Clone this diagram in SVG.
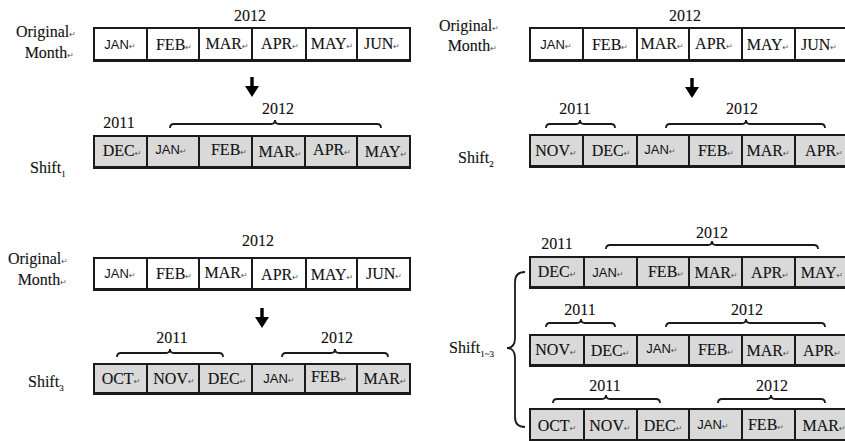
<svg xmlns="http://www.w3.org/2000/svg" width="845" height="441" viewBox="0 0 845 441" font-family="Liberation Serif, Times New Roman, serif">
<style>
.w{fill:#ffffff;stroke:#1a1a1a;stroke-width:2}
.g{fill:#d9d9d9;stroke:#1a1a1a;stroke-width:2}
.bl{stroke:#1a1a1a;stroke-width:3}
.m,.l,.y{font-size:16px;fill:#111;stroke:#111;stroke-width:0.12}
.m,.j,.y{text-anchor:middle}
.j{font-family:Liberation Sans, Arial, sans-serif;font-size:13px;fill:#111}
.k{font-family:DejaVu Sans, sans-serif;font-size:8px;fill:#555;stroke:none}
.r{text-anchor:end}
.s{font-size:9px}
.br{fill:none;stroke:#1a1a1a;stroke-width:1.8}
.ar{fill:#000}
</style>
<defs>
<g id="arrow"><rect x="-1.7" y="0" width="3.4" height="11" class="ar"/><path d="M-7,9 L7,9 L0,20 Z" class="ar"/></g>
</defs>

<!-- Panel 1 -->
<g id="p1-label">
<text class="l r" x="76" y="37">Original<tspan class="k">↵</tspan></text>
<text class="l r" x="74" y="58">Month<tspan class="k">↵</tspan></text>
</g>
<g id="p1-top">
<text class="y" x="250" y="21">2012</text>
<rect class="w" x="94" y="28" width="53" height="32"/><rect class="w" x="147" y="28" width="52" height="32"/><rect class="w" x="199" y="28" width="53" height="32"/><rect class="w" x="252" y="28" width="54" height="32"/><rect class="w" x="306" y="28" width="51" height="32"/><rect class="w" x="357" y="28" width="53" height="32"/>
<line class="bl" x1="93" y1="60.5" x2="411" y2="60.5"/>
<text class="j" x="120" y="49">JAN<tspan class="k">↵</tspan></text>
<text class="m" x="174" y="50">FEB<tspan class="k">↵</tspan></text>
<text class="m" x="227" y="49">MAR<tspan class="k">↵</tspan></text>
<text class="m" x="280" y="49">APR<tspan class="k">↵</tspan></text>
<text class="m" x="332" y="49">MAY<tspan class="k">↵</tspan></text>
<text class="m" x="382" y="49">JUN<tspan class="k">↵</tspan></text>
</g>
<g id="p1-shift">
<text class="y" x="119" y="128">2011</text>
<text class="y" x="278" y="114">2012</text>
<rect class="g" x="94" y="136" width="53" height="31"/><rect class="g" x="147" y="136" width="52" height="31"/><rect class="g" x="199" y="136" width="53" height="31"/><rect class="g" x="252" y="136" width="53" height="31"/><rect class="g" x="305" y="136" width="52" height="31"/><rect class="g" x="357" y="136" width="53" height="31"/>
<line class="bl" x1="93" y1="167.5" x2="411" y2="167.5"/>
<text class="m" x="122" y="156">DEC<tspan class="k">↵</tspan></text>
<text class="j" x="171" y="154">JAN<tspan class="k">↵</tspan></text>
<text class="m" x="229" y="155">FEB<tspan class="k">↵</tspan></text>
<text class="m" x="280" y="157">MAR<tspan class="k">↵</tspan></text>
<text class="m" x="332" y="155">APR<tspan class="k">↵</tspan></text>
<text class="m" x="386" y="157">MAY<tspan class="k">↵</tspan></text>
<text class="l" x="30" y="173">Shift<tspan class="s" dy="4">1</tspan></text>
</g>

<!-- Panel 2 -->
<g id="p2-label">
<text class="l r" x="499" y="31">Original<tspan class="k">↵</tspan></text>
<text class="l r" x="497" y="51">Month<tspan class="k">↵</tspan></text>
</g>
<g id="p2-top">
<text class="y" x="685" y="21">2012</text>
<rect class="w" x="530" y="28" width="53" height="32"/><rect class="w" x="583" y="28" width="54" height="32"/><rect class="w" x="637" y="28" width="52" height="32"/><rect class="w" x="689" y="28" width="53" height="32"/><rect class="w" x="742" y="28" width="53" height="32"/><rect class="w" x="795" y="28" width="53" height="32"/>
<line class="bl" x1="529" y1="60.5" x2="848" y2="60.5"/>
<text class="j" x="556" y="49">JAN<tspan class="k">↵</tspan></text>
<text class="m" x="610" y="50">FEB<tspan class="k">↵</tspan></text>
<text class="m" x="662" y="49">MAR<tspan class="k">↵</tspan></text>
<text class="m" x="714" y="49">APR<tspan class="k">↵</tspan></text>
<text class="m" x="768" y="50">MAY<tspan class="k">↵</tspan></text>
<text class="m" x="819" y="50">JUN<tspan class="k">↵</tspan></text>
</g>
<g id="p2-shift">
<text class="y" x="575" y="114">2011</text>
<text class="y" x="742" y="114">2012</text>
<rect class="g" x="530" y="135" width="53" height="31"/><rect class="g" x="583" y="135" width="54" height="31"/><rect class="g" x="637" y="135" width="52" height="31"/><rect class="g" x="689" y="135" width="53" height="31"/><rect class="g" x="742" y="135" width="53" height="31"/><rect class="g" x="795" y="135" width="53" height="31"/>
<line class="bl" x1="529" y1="166.5" x2="848" y2="166.5"/>
<text class="m" x="556" y="156">NOV<tspan class="k">↵</tspan></text>
<text class="m" x="611" y="156">DEC<tspan class="k">↵</tspan></text>
<text class="j" x="660" y="154">JAN<tspan class="k">↵</tspan></text>
<text class="m" x="716" y="156">FEB<tspan class="k">↵</tspan></text>
<text class="m" x="768" y="156">MAR<tspan class="k">↵</tspan></text>
<text class="m" x="824" y="156">APR<tspan class="k">↵</tspan></text>
<text class="l" x="458" y="163">Shift<tspan class="s" dy="4">2</tspan></text>
</g>

<!-- Panel 3 -->
<g id="p3-label">
<text class="l r" x="68" y="264">Original<tspan class="k">↵</tspan></text>
<text class="l r" x="67" y="285">Month<tspan class="k">↵</tspan></text>
</g>
<g id="p3-top">
<text class="y" x="258" y="246">2012</text>
<rect class="w" x="94" y="258" width="53" height="31"/><rect class="w" x="147" y="258" width="52" height="31"/><rect class="w" x="199" y="258" width="53" height="31"/><rect class="w" x="252" y="258" width="54" height="31"/><rect class="w" x="306" y="258" width="51" height="31"/><rect class="w" x="357" y="258" width="53" height="31"/>
<line class="bl" x1="93" y1="289.5" x2="411" y2="289.5"/>
<text class="j" x="120" y="278">JAN<tspan class="k">↵</tspan></text>
<text class="m" x="174" y="279">FEB<tspan class="k">↵</tspan></text>
<text class="m" x="226" y="278">MAR<tspan class="k">↵</tspan></text>
<text class="m" x="280" y="280">APR<tspan class="k">↵</tspan></text>
<text class="m" x="332" y="280">MAY<tspan class="k">↵</tspan></text>
<text class="m" x="384" y="279">JUN<tspan class="k">↵</tspan></text>
</g>
<g id="p3-shift">
<text class="y" x="172" y="343">2011</text>
<text class="y" x="337" y="343">2012</text>
<rect class="g" x="94" y="364" width="53" height="29"/><rect class="g" x="147" y="364" width="52" height="29"/><rect class="g" x="199" y="364" width="53" height="29"/><rect class="g" x="252" y="364" width="53" height="29"/><rect class="g" x="305" y="364" width="52" height="29"/><rect class="g" x="357" y="364" width="53" height="29"/>
<line class="bl" x1="93" y1="393.5" x2="411" y2="393.5"/>
<text class="m" x="121" y="384">OCT<tspan class="k">↵</tspan></text>
<text class="m" x="174" y="384">NOV<tspan class="k">↵</tspan></text>
<text class="m" x="227" y="384">DEC<tspan class="k">↵</tspan></text>
<text class="j" x="279" y="383">JAN<tspan class="k">↵</tspan></text>
<text class="m" x="329" y="382">FEB<tspan class="k">↵</tspan></text>
<text class="m" x="385" y="384">MAR<tspan class="k">↵</tspan></text>
<text class="l" x="28" y="387">Shift<tspan class="s" dy="4">3</tspan></text>
</g>

<!-- Panel 4 -->
<g id="p4-row1">
<text class="y" x="557" y="249">2011</text>
<text class="y" x="712" y="238">2012</text>
<rect class="g" x="530" y="257" width="54" height="30"/><rect class="g" x="584" y="257" width="53" height="30"/><rect class="g" x="637" y="257" width="52" height="30"/><rect class="g" x="689" y="257" width="53" height="30"/><rect class="g" x="742" y="257" width="53" height="30"/><rect class="g" x="795" y="257" width="53" height="30"/>
<line class="bl" x1="529" y1="287.5" x2="848" y2="287.5"/>
<text class="m" x="557" y="277">DEC<tspan class="k">↵</tspan></text>
<text class="j" x="608" y="277">JAN<tspan class="k">↵</tspan></text>
<text class="m" x="666" y="277">FEB<tspan class="k">↵</tspan></text>
<text class="m" x="716" y="278">MAR<tspan class="k">↵</tspan></text>
<text class="m" x="770" y="278">APR<tspan class="k">↵</tspan></text>
<text class="m" x="822" y="278">MAY<tspan class="k">↵</tspan></text>
</g>
<g id="p4-row2">
<text class="y" x="580" y="315">2011</text>
<text class="y" x="747" y="315">2012</text>
<rect class="g" x="530" y="335" width="54" height="30"/><rect class="g" x="584" y="335" width="53" height="30"/><rect class="g" x="637" y="335" width="52" height="30"/><rect class="g" x="689" y="335" width="53" height="30"/><rect class="g" x="742" y="335" width="53" height="30"/><rect class="g" x="795" y="335" width="53" height="30"/>
<line class="bl" x1="529" y1="365.5" x2="848" y2="365.5"/>
<text class="m" x="556" y="355">NOV<tspan class="k">↵</tspan></text>
<text class="m" x="610" y="356">DEC<tspan class="k">↵</tspan></text>
<text class="j" x="662" y="353">JAN<tspan class="k">↵</tspan></text>
<text class="m" x="716" y="355">FEB<tspan class="k">↵</tspan></text>
<text class="m" x="768" y="356">MAR<tspan class="k">↵</tspan></text>
<text class="m" x="822" y="356">APR<tspan class="k">↵</tspan></text>
</g>
<g id="p4-row3">
<text class="y" x="605" y="391">2011</text>
<text class="y" x="772" y="391">2012</text>
<rect class="g" x="530" y="409" width="54" height="31"/><rect class="g" x="584" y="409" width="53" height="31"/><rect class="g" x="637" y="409" width="52" height="31"/><rect class="g" x="689" y="409" width="53" height="31"/><rect class="g" x="742" y="409" width="53" height="31"/><rect class="g" x="795" y="409" width="53" height="31"/>
<text class="m" x="557" y="431">OCT<tspan class="k">↵</tspan></text>
<text class="m" x="610" y="431">NOV<tspan class="k">↵</tspan></text>
<text class="m" x="663" y="431">DEC<tspan class="k">↵</tspan></text>
<text class="j" x="713" y="429">JAN<tspan class="k">↵</tspan></text>
<text class="m" x="766" y="430">FEB<tspan class="k">↵</tspan></text>
<text class="m" x="824" y="431">MAR<tspan class="k">↵</tspan></text>
</g>
<g id="p4-label">
<text class="l" x="449" y="353">Shift<tspan class="s" dy="4">1~3</tspan></text>
</g>

<g id="connectors">
<use href="#arrow" x="252" y="77"/>
<use href="#arrow" x="692" y="78"/>
<use href="#arrow" x="262" y="308"/>
<path class="br" d="M170,128 Q170,124 174,124 L271,124 Q275,124 275,120 Q275,124 279,124 L377,124 Q381,124 381,128"/>
<path class="br" d="M546,128 Q546,124 550,124 L576,124 Q580,124 580,120 Q580,124 584,124 L611,124 Q615,124 615,128"/>
<path class="br" d="M666,128 Q666,124 670,124 L742,124 Q746,124 746,120 Q746,124 750,124 L821,124 Q825,124 825,128"/>
<path class="br" d="M117,357 Q117,353 121,353 L166,353 Q170,353 170,349 Q170,353 174,353 L219,353 Q223,353 223,357"/>
<path class="br" d="M282,357 Q282,353 286,353 L331,353 Q335,353 335,349 Q335,353 339,353 L384,353 Q388,353 388,357"/>
<path class="br" d="M606,249 Q606,245 610,245 L708,245 Q712,245 712,241 Q712,245 716,245 L814,245 Q818,245 818,249"/>
<path class="br" d="M546,327 Q546,323 550,323 L577,323 Q581,323 581,319 Q581,323 585,323 L611,323 Q615,323 615,327"/>
<path class="br" d="M666,327 Q666,323 670,323 L742,323 Q746,323 746,319 Q746,323 750,323 L821,323 Q825,323 825,327"/>
<path class="br" d="M553,403 Q553,399 557,399 L602,399 Q606,399 606,395 Q606,399 610,399 L656,399 Q660,399 660,403"/>
<path class="br" d="M718,403 Q718,399 722,399 L767,399 Q771,399 771,395 Q771,399 775,399 L821,399 Q825,399 825,403"/>
<path class="br" d="M525,272 Q515,272 515,282 L515,338 Q515,348 507,348 Q515,348 515,358 L515,417 Q515,427 525,427"/>
</g>
</svg>
